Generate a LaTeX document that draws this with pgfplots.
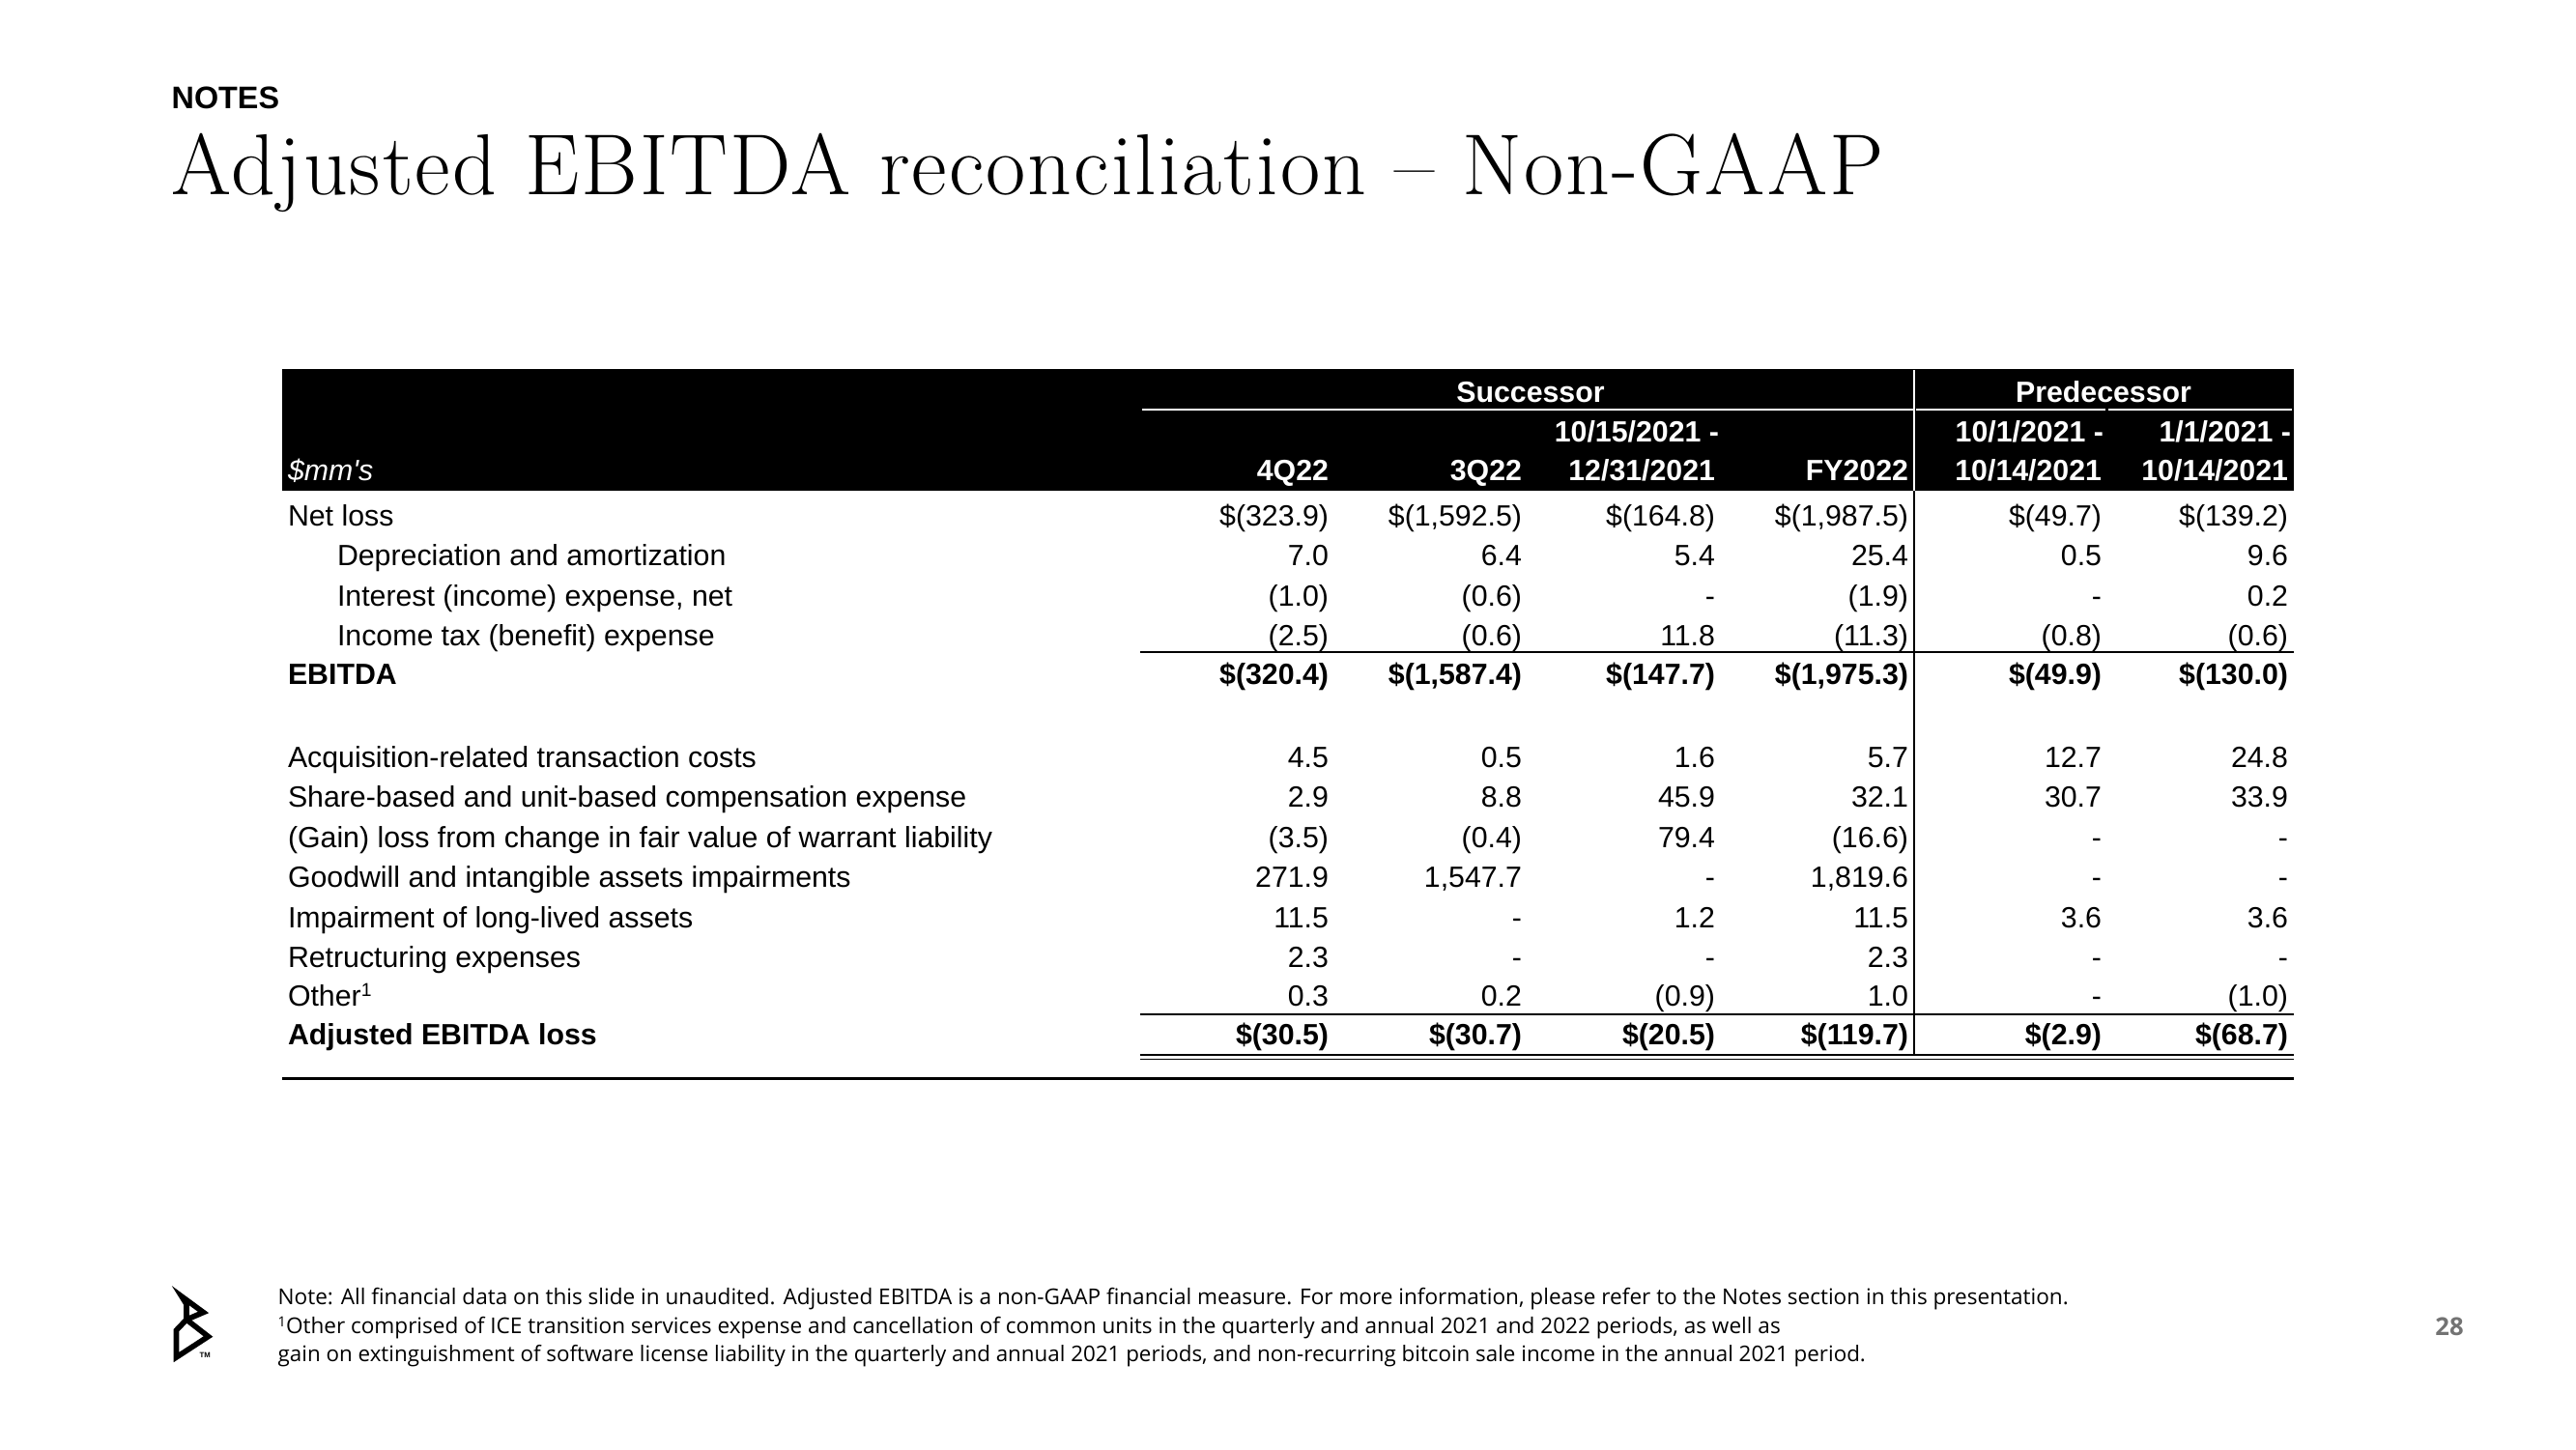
\documentclass[border=0pt]{standalone}
\usepackage{pgfplots}
\pgfplotsset{compat=1.18}
\usepackage{pgfplotstable}
\usepackage{fontspec}
\usepackage{graphicx}
\newfontfamily\arial{Liberation Sans}
\newfontfamily\osans{Open Sans}
\newfontfamily\titlef[LetterSpace=2.3]{Latin Modern Roman}
\newcommand\bodyf{\arial\fontsize{8.62}{10}\selectfont}

% baseline y (px from top); six value columns
\pgfplotstableread[col sep=semicolon]{
y;a;b;c;d;e;f
544;\$(323.9);\$(1,592.5);\$(164.8);\$(1,987.5);\$(49.7);\$(139.2)
585;7.0;6.4;5.4;25.4;0.5;9.6
627;(1.0);(0.6);-;(1.9);-;0.2
668;(2.5);(0.6);11.8;(11.3);(0.8);(0.6)
794;4.5;0.5;1.6;5.7;12.7;24.8
835;2.9;8.8;45.9;32.1;30.7;33.9
877;(3.5);(0.4);79.4;(16.6);-;-
918;271.9;1,547.7;-;1,819.6;-;-
960;11.5;-;1.2;11.5;3.6;3.6
1001;2.3;-;-;2.3;-;-
1041;0.3;0.2;(0.9);1.0;-;(1.0)
}\normalrows

\pgfplotstableread[col sep=semicolon]{
y;a;b;c;d;e;f
708;\$(320.4);\$(1,587.4);\$(147.7);\$(1,975.3);\$(49.9);\$(130.0)
1081;\$(30.5);\$(30.7);\$(20.5);\$(119.7);\$(2.9);\$(68.7)
}\totalrows

\pgfplotsset{
  valcol/.style={draw=none, mark=none, forget plot,
    nodes near coords={\pgfplotspointmeta},
    point meta=explicit symbolic,
    nodes near coords align={anchor=base east},
    every node near coord/.style={anchor=base east, inner sep=0pt, outer sep=0pt, font=\bodyf, text=black}},
  valcolb/.style={valcol,
    every node near coord/.style={anchor=base east, inner sep=0pt, outer sep=0pt, font=\bodyf\bfseries, text=black}},
}

\begin{document}
\begin{tikzpicture}
\fill[white] (0,0) rectangle (266.6mm,150mm);
\begin{axis}[at={(0,0)}, anchor=south west,
  width=266.6mm, height=150mm, scale only axis,
  xmin=0, xmax=2666, ymin=0, ymax=1500, y dir=reverse,
  enlargelimits=false, hide axis, clip=false]

% header bar
\fill[black] (292,382) rectangle (2374,508);
\draw[white, line width=0.55pt] (1182,424) -- (1980,424);
\draw[white, line width=0.55pt] (1983,424) -- (2179,424);
\draw[white, line width=0.55pt] (2182,424) -- (2372,424);
\draw[white, line width=0.45pt] (1981,383) -- (1981,508);

% rules
\draw[black, line width=0.45pt] (1981,508) -- (1981,1092);
\draw[black, line width=0.6pt] (1180,675) -- (2374,675);
\draw[black, line width=0.6pt] (1180,1050) -- (2374,1050);
\draw[black, line width=0.55pt] (1180,1092) -- (2374,1092);
\draw[black, line width=0.55pt] (1180,1096.5) -- (2374,1096.5);
\draw[black, line width=0.6pt] (292,1116.5) -- (2374,1116.5);

% header text
\begin{scope}[every node/.style={inner sep=0pt, outer sep=0pt, text=white, font=\bodyf\bfseries}]
\node[anchor=base] at (1584,416) {Successor};
\node[anchor=base] at (2177,416) {Predecessor};
\node[anchor=base east] at (1779,457) {10/15/2021 -};
\node[anchor=base east] at (2177,457) {10/1/2021 -};
\node[anchor=base east] at (2371,457) {1/1/2021 -};
\node[anchor=base east] at (1375,497) {4Q22};
\node[anchor=base east] at (1575,497) {3Q22};
\node[anchor=base east] at (1775,497) {12/31/2021};
\node[anchor=base east] at (1975,497) {FY2022};
\node[anchor=base east] at (2175,497) {10/14/2021};
\node[anchor=base east] at (2368,497) {10/14/2021};
\node[anchor=base west, font=\bodyf\itshape] at (298,497) {\$mm's};
\end{scope}

% row labels
\begin{scope}[every node/.style={inner sep=0pt, outer sep=0pt, anchor=base west, font=\bodyf, text=black}]
\node at (298,544) {Net loss};
\node at (349,585) {Depreciation and amortization};
\node at (349,627) {Interest (income) expense, net};
\node at (349,668) {Income tax (benefit) expense};
\node[font=\bodyf\bfseries] at (298,708) {EBITDA};
\node at (298,794) {Acquisition-related transaction costs};
\node at (298,835) {Share-based and unit-based compensation expense};
\node at (298,877) {(Gain) loss from change in fair value of warrant liability};
\node at (298,918) {Goodwill and intangible assets impairments};
\node at (298,960) {Impairment of long-lived assets};
\node at (298,1001) {Retructuring expenses};
\node at (298,1041) {Other{\fontsize{5.5}{6}\selectfont\raisebox{0.9ex}{1}}};
\node[font=\bodyf\bfseries] at (298,1081) {Adjusted EBITDA loss};
\end{scope}

% values
\addplot[valcol] table[x expr=1375, y=y, meta=a] {\normalrows};
\addplot[valcol] table[x expr=1575, y=y, meta=b] {\normalrows};
\addplot[valcol] table[x expr=1775, y=y, meta=c] {\normalrows};
\addplot[valcol] table[x expr=1975, y=y, meta=d] {\normalrows};
\addplot[valcol] table[x expr=2175, y=y, meta=e] {\normalrows};
\addplot[valcol] table[x expr=2368, y=y, meta=f] {\normalrows};
\addplot[valcolb] table[x expr=1375, y=y, meta=a] {\totalrows};
\addplot[valcolb] table[x expr=1575, y=y, meta=b] {\totalrows};
\addplot[valcolb] table[x expr=1775, y=y, meta=c] {\totalrows};
\addplot[valcolb] table[x expr=1975, y=y, meta=d] {\totalrows};
\addplot[valcolb] table[x expr=2175, y=y, meta=e] {\totalrows};
\addplot[valcolb] table[x expr=2368, y=y, meta=f] {\totalrows};

% titles
\node[anchor=base west, inner sep=0pt] at (177,112) {\arial\bfseries\fontsize{9.2}{11}\selectfont NOTES};
\node[anchor=base west, inner sep=0pt] at (177,201) {\titlef\fontsize{25.5}{30}\selectfont Adjusted EBITDA reconciliation – Non-GAAP};

% footnote
\node[anchor=base west, inner sep=0pt] at (287,1350) {\resizebox{185.3mm}{!}{\osans\fontsize{7}{8}\selectfont Note: All financial data on this slide in unaudited. Adjusted EBITDA is a non-GAAP financial measure. For more information, please refer to the Notes section in this presentation.}};
\node[anchor=base west, inner sep=0pt] at (287,1380) {\resizebox{155.5mm}{!}{\osans\fontsize{7}{8}\selectfont {\fontsize{4.5}{5}\selectfont\raisebox{0.9ex}{1}}Other comprised of ICE transition services expense and cancellation of common units in the quarterly and annual 2021 and 2022 periods, as well as}};
\node[anchor=base west, inner sep=0pt] at (287,1409) {\resizebox{164.3mm}{!}{\osans\fontsize{7}{8}\selectfont gain on extinguishment of software license liability in the quarterly and annual 2021 periods, and non-recurring bitcoin sale income in the annual 2021 period.}};

% page number
\node[anchor=base, inner sep=0pt, text=black!55] at (2535,1382) {\osans\bfseries\fontsize{7.3}{9}\selectfont 28};

% logo
\draw[black, line width=1.6pt, line join=miter] (188,1342) -- (210.5,1358.5) -- (193,1366) -- (193,1350) -- cycle;
\draw[black, line width=1.6pt, line join=miter] (193,1366) -- (215.5,1383.5) -- (182.5,1405) -- (182.5,1377) -- cycle;
\node[anchor=base west, inner sep=0pt] at (206,1405) {\arial\bfseries\fontsize{2.2}{3}\selectfont TM};

\end{axis}
\end{tikzpicture}
\end{document}
